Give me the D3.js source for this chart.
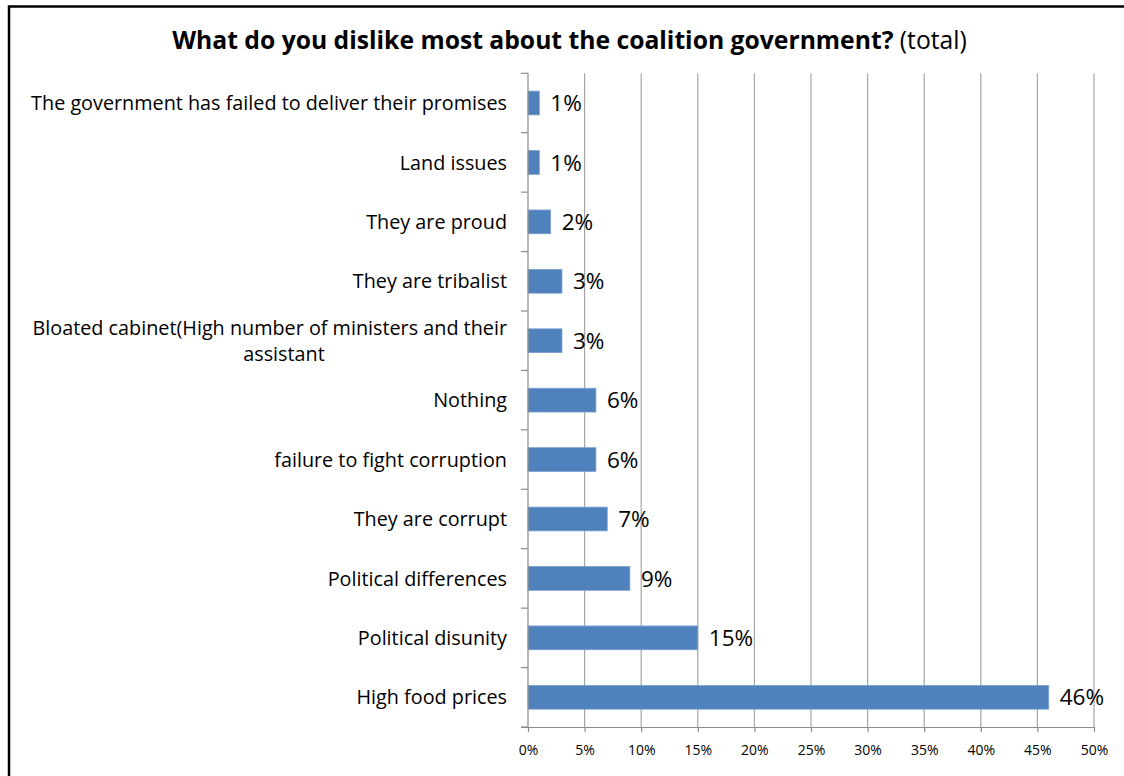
<!DOCTYPE html>
<html>
<head>
<meta charset="utf-8">
<script src="https://cdn.jsdelivr.net/npm/d3@7"></script>
<style>
  html, body { margin: 0; padding: 0; background: #fff; }
  svg { display: block; }
  text { font-family: "Open Sans", "Noto Sans", sans-serif; fill: #000; }
</style>
</head>
<body>
<svg id="chart" width="1124" height="776"></svg>
<script>
const categories = [
  "The government has failed to deliver their promises",
  "Land issues",
  "They are proud",
  "They are tribalist",
  "Bloated cabinet(High number of ministers and their|assistant",
  "Nothing",
  "failure to fight corruption",
  "They are corrupt",
  "Political differences",
  "Political disunity",
  "High food prices"
];
const values = [1, 1, 2, 3, 3, 6, 6, 7, 9, 15, 46];
const xTicks = [0, 5, 10, 15, 20, 25, 30, 35, 40, 45, 50];
const titleBold = "What do you dislike most about the coalition government?";
const titleNormal = " (total)";

const svg = d3.select("#chart");
const W = 1124, H = 776;
const plot = { left: 528, right: 1094, top: 73.3, bottom: 727 };

// frame
svg.append("rect")
  .attr("x", 9).attr("y", 6.5)
  .attr("width", W + 20).attr("height", H + 20)
  .attr("fill", "#fff").attr("stroke", "#000").attr("stroke-width", 2.5);

const x = d3.scaleLinear().domain([0, 50]).range([plot.left, plot.right]);
const y = d3.scaleBand().domain(categories).range([plot.top, plot.bottom])
  .paddingInner(0.6).paddingOuter(0.3);

// gridlines
svg.append("g").selectAll("line").data(xTicks.slice(1)).join("line")
  .attr("x1", d => x(d)).attr("x2", d => x(d))
  .attr("y1", plot.top).attr("y2", plot.bottom)
  .attr("stroke", "#a6a6a6").attr("stroke-width", 1.2);

// bars
svg.append("g").selectAll("rect").data(categories).join("rect")
  .attr("x", x(0))
  .attr("y", d => y(d))
  .attr("width", (d, i) => x(values[i]) - x(0))
  .attr("height", y.bandwidth())
  .attr("fill", "#4f81bd")
  .attr("stroke", "#7ba0cf").attr("stroke-width", 0.8);

// x axis
const xAxis = d3.axisBottom(x).tickValues(xTicks).tickSize(5).tickFormat(d => d + "%");
const gx = svg.append("g").attr("transform", `translate(0,${plot.bottom})`).call(xAxis);
gx.select(".domain").attr("stroke", "#8c8c8c").attr("stroke-width", 1.2)
  .attr("d", `M${plot.left - 7},0.5H${plot.right}`);
gx.selectAll(".tick line").attr("stroke", "#8c8c8c").attr("stroke-width", 1.2);
gx.selectAll(".tick text")
  .attr("y", 18)
  .style("font-family", '"Open Sans", sans-serif')
  .style("font-size", "14px").attr("fill", "#000");

// y axis line + boundary ticks
svg.append("line")
  .attr("x1", plot.left).attr("x2", plot.left)
  .attr("y1", plot.top).attr("y2", plot.bottom)
  .attr("stroke", "#8c8c8c").attr("stroke-width", 1.2);
const step = y.step();
const boundaries = d3.range(categories.length + 1).map(i => plot.top + i * step);
svg.append("g").selectAll("line").data(boundaries).join("line")
  .attr("x1", plot.left - 7).attr("x2", plot.left)
  .attr("y1", d => d).attr("y2", d => d)
  .attr("stroke", "#8c8c8c").attr("stroke-width", 1.2);

// category labels
const labG = svg.append("g");
const labSize = "19.8px";
categories.forEach(c => {
  const lines = c.split("|");
  const cy = y(c) + y.bandwidth() / 2;
  if (lines.length === 1) {
    labG.append("text")
      .attr("x", 507).attr("y", cy)
      .attr("dy", "0.36em")
      .attr("text-anchor", "end")
      .style("font-size", labSize)
      .text(lines[0]);
  } else {
    labG.append("text")
      .attr("x", 507).attr("y", cy - 13)
      .attr("dy", "0.36em")
      .attr("text-anchor", "end")
      .style("font-size", labSize)
      .text(lines[0]);
    labG.append("text")
      .attr("x", 284).attr("y", cy + 13)
      .attr("dy", "0.36em")
      .attr("text-anchor", "middle")
      .style("font-size", labSize)
      .text(lines[1]);
  }
});

// value labels
svg.append("g").selectAll("text").data(categories).join("text")
  .attr("x", (d, i) => x(values[i]) + 11)
  .attr("y", d => y(d) + y.bandwidth() / 2)
  .attr("dy", "0.36em")
  .style("font-size", "22.5px")
  .text((d, i) => values[i] + "%");

// title
const t = svg.append("text")
  .attr("x", 569.5).attr("y", 49)
  .attr("text-anchor", "middle")
  .style("font-size", "24.7px");
t.append("tspan").style("font-weight", "bold").text(titleBold);
t.append("tspan").style("font-weight", "normal").text(titleNormal);
</script>
</body>
</html>
